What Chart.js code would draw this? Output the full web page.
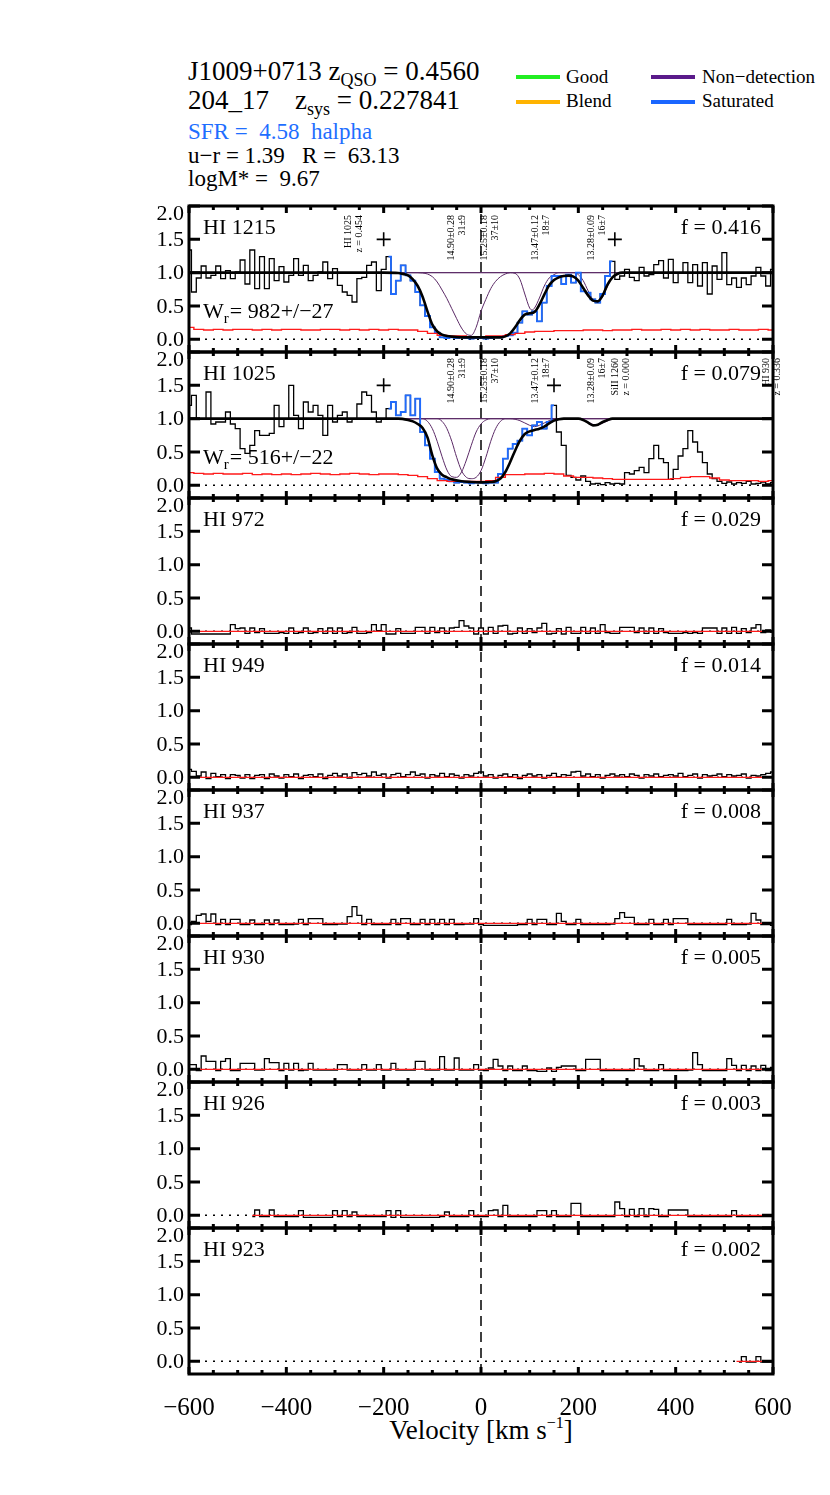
<!DOCTYPE html>
<html>
<head>
<meta charset="utf-8">
<title>J1009+0713 HI velocity stack</title>
<script src="https://cdn.jsdelivr.net/npm/chart.js@4.4.1/dist/chart.umd.min.js"></script>
<style>
  html, body { margin: 0; padding: 0; background: #fff; }
  body { position: relative; width: 830px; height: 1495px; overflow: hidden;
         font-family: 'Liberation Serif', 'Times New Roman', serif; color: #000; }
  canvas { position: absolute; left: 0; }
  .t { position: absolute; white-space: pre; line-height: 1; }
  .sub { font-size: 18px; position: relative; top: 6px; }
  .sup { font-size: 16px; position: relative; top: -11px; }
  .key { position: absolute; height: 4px; width: 44px; }
</style>
</head>
<body>
<div class="t" style="left:188px;top:58px;font-size:27px">J1009+0713 z<span class="sub">QSO</span> = 0.4560</div>
<div class="t" style="left:188px;top:87px;font-size:27px">204_17</div>
<div class="t" style="left:295px;top:87px;font-size:27px">z<span class="sub">sys</span> = 0.227841</div>
<div class="t" style="left:188px;top:120px;font-size:23px;color:#1e6eff">SFR =  4.58  halpha</div>
<div class="t" style="left:188px;top:144px;font-size:23px">u−r = 1.39   R =  63.13</div>
<div class="t" style="left:188px;top:167px;font-size:23px">logM* =  9.67</div>

<div class="key" style="left:516px;top:75px;background:#22ee22"></div>
<div class="t" style="left:566px;top:67px;font-size:19px">Good</div>
<div class="key" style="left:516px;top:100px;background:#ffb300"></div>
<div class="t" style="left:566px;top:91px;font-size:19px">Blend</div>
<div class="key" style="left:651px;top:75px;background:#5a1a8a"></div>
<div class="t" style="left:702px;top:67px;font-size:19px">Non−detection</div>
<div class="key" style="left:651px;top:100px;background:#1a66ff"></div>
<div class="t" style="left:702px;top:91px;font-size:19px">Saturated</div>

<div class="t" style="left:331px;width:300px;text-align:center;top:1417px;font-size:27px">Velocity [km s<span class="sup">−1</span>]</div>

<script>
// ---- bins (km/s) ----
const velGrid = Array.from({ length: 121 }, (_, i) => -600 + 10 * i);
const errGrid = Array.from({ length: 61 }, (_, i) => -600 + 20 * i);

// ---- panel text ----
const lineNames = ['HI 1215', 'HI 1025', 'HI 972', 'HI 949', 'HI 937', 'HI 930', 'HI 926', 'HI 923'];
const fValues = ['0.416', '0.079', '0.029', '0.014', '0.008', '0.005', '0.003', '0.002'];
const wrLabels = ['982+/−27', '516+/−22'];

const yTicks = [0, 0.5, 1, 1.5, 2];
const yTickLabels = ['0.0', '0.5', '1.0', '1.5', '2.0'];
const xMajor = [-600, -400, -200, 0, 200, 400, 600];
const xTickLabels = ['−600', '−400', '−200', '0', '200', '400', '600'];
const xMinor = [-550, -500, -450, -350, -300, -250, -150, -100, -50, 50, 100, 150, 250, 300, 350, 450, 500, 550];
const yMin = -0.19, yMax = 2.0, zeroFlux = 0, sysVel = 0, limitY = 1.5;

// ---- normalised flux, 10 km/s bins from -600 ----
const flux1215 = [
  1.34, 0.71, 0.92, 1.10, 0.92, 0.96, 1.10, 0.91, 1.03, 0.91,
  1.01, 1.19, 0.83, 1.34, 0.76, 1.24, 0.76, 1.21, 0.88, 1.09,
  0.86, 0.96, 1.21, 0.96, 1.11, 0.88, 0.96, 1.01, 1.16, 0.91,
  1.06, 0.81, 0.71, 0.66, 0.56, 0.91, 0.93, 1.11, 1.16, 0.73,
  1.05, 1.24, 0.68, 0.88, 1.11, 0.96, 0.88, 0.71, 0.51, 0.35,
  0.18, 0.10, 0.03, 0.02, 0.03, 0.02, 0.03, 0.02, 0.01, 0.02,
  0.02, 0.01, 0.02, 0.03, 0.03, 0.05, 0.06, 0.10, 0.25, 0.42,
  0.37, 0.42, 0.27, 0.55, 0.80, 0.95, 0.95, 0.83, 0.97, 0.85,
  1.00, 0.72, 0.70, 0.60, 0.55, 0.68, 0.95, 1.17, 0.90, 0.95,
  1.05, 0.93, 0.88, 1.08, 0.95, 0.97, 1.12, 1.18, 0.92, 1.20,
  0.85, 1.00, 1.15, 0.85, 1.12, 0.80, 1.15, 0.68, 1.10, 0.90,
  1.30, 0.82, 0.92, 0.78, 0.92, 0.82, 0.95, 1.08, 0.95, 0.80,
  1.05
];
const flux1025 = [
  1.20, 1.35, 1.00, 1.00, 1.40, 0.92, 0.95, 0.95, 1.10, 0.92,
  0.85, 0.55, 0.48, 0.60, 0.82, 0.75, 0.75, 0.78, 1.20, 0.88,
  1.00, 1.50, 1.05, 0.85, 1.25, 1.10, 1.20, 1.05, 0.75, 1.20,
  0.95, 1.05, 1.10, 0.95, 1.00, 1.22, 1.40, 1.35, 1.10, 0.95,
  1.00, 1.15, 1.25, 1.05, 1.10, 1.35, 1.05, 1.30, 0.80, 0.60,
  0.40, 0.20, 0.10, 0.08, 0.06, 0.04, 0.05, 0.04, 0.03, 0.04,
  0.04, 0.03, 0.04, 0.04, 0.17, 0.40, 0.55, 0.62, 0.67, 0.85,
  0.75, 0.90, 0.95, 0.85, 0.95, 1.20, 0.80, 0.60, 0.15, 0.12,
  0.08, 0.14, 0.06, 0.02, 0.03, 0.01, 0.04, 0.02, 0.03, 0.02,
  0.19, 0.17, 0.22, 0.27, 0.19, 0.40, 0.60, 0.40, 0.34, 0.09,
  0.24, 0.44, 0.55, 0.82, 0.65, 0.50, 0.34, 0.17, 0.10, 0.06,
  0.03, 0.05, 0.02, 0.04, 0.03, 0.06, 0.02, 0.03, 0.05, 0.02,
  0.04
];
const flux972 = [
  0.05, -0.04, -0.04, -0.04, -0.04, -0.04, -0.04, -0.04, -0.04, 0.10,
  0.04, 0.05, -0.03, 0.05, -0.02, 0.04, -0.03, -0.03, -0.03, -0.02,
  -0.03, 0.05, -0.03, -0.02, 0.05, -0.03, -0.02, 0.04, -0.03, 0.05,
  -0.03, 0.05, -0.03, -0.02, 0.06, -0.03, -0.03, -0.02, 0.10, 0.01,
  0.10, -0.04, -0.04, 0.04, -0.03, -0.03, -0.03, 0.06, 0.06, -0.03,
  0.06, -0.02, 0.05, -0.03, 0.05, 0.06, 0.16, 0.08, 0.05, -0.04,
  0.05, -0.04, 0.06, -0.03, 0.08, 0.09, -0.04, -0.03, 0.05, -0.03,
  0.04, -0.02, 0.05, 0.12, -0.04, -0.03, 0.04, -0.04, 0.06, -0.03,
  -0.03, 0.06, -0.03, 0.05, -0.03, 0.10, -0.02, -0.03, -0.03, 0.06,
  0.06, 0.06, -0.02, 0.05, -0.03, 0.05, -0.03, 0.04, -0.02, -0.03,
  -0.03, -0.03, -0.02, -0.03, -0.02, -0.03, 0.05, 0.05, 0.05, -0.03,
  0.05, -0.03, 0.06, -0.03, 0.04, -0.02, 0.05, 0.10, -0.02, 0.02,
  -0.01
];
const flux949 = [
  0.12, 0.09, 0.02, 0.08, -0.02, 0.06, 0.01, 0.04, -0.02, 0.04,
  0.03, -0.01, 0.04, -0.02, 0.03, 0.04, -0.02, 0.05, 0.02, -0.01,
  0.04, 0.01, 0.05, -0.02, 0.03, 0.04, 0.01, 0.05, -0.02, 0.03,
  0.06, 0.02, 0.05, -0.01, 0.07, 0.04, 0.06, 0.02, 0.08, 0.03,
  0.05, -0.01, 0.04, 0.06, 0.01, 0.04, 0.08, 0.03, 0.05, -0.01,
  0.04, 0.02, 0.06, 0.01, 0.05, 0.03, -0.01, 0.04, 0.02, 0.06,
  0.08, 0.02, 0.04, -0.01, 0.03, 0.05, 0.01, 0.04, -0.02, 0.03,
  0.05, 0.02, 0.04, -0.01, 0.03, 0.06, 0.01, 0.04, 0.03, 0.08,
  0.09, 0.02, 0.05, 0.01, 0.04, -0.01, 0.03, 0.05, 0.02, 0.04,
  0.01, 0.05, 0.03, -0.01, 0.04, 0.02, 0.05, 0.01, 0.03, 0.04,
  0.02, 0.06, 0.01, 0.03, 0.05, -0.01, 0.04, 0.02, 0.03, 0.05,
  0.01, 0.04, 0.02, 0.03, 0.05, -0.01, 0.03, 0.02, 0.04, 0.06,
  0.08
];
const flux937 = [
  -0.02, 0.03, 0.12, 0.14, 0.03, 0.14, -0.02, 0.06, -0.02, 0.06,
  0.06, -0.02, -0.02, 0.05, -0.02, -0.02, 0.05, -0.02, 0.05, -0.02,
  -0.02, -0.02, -0.01, 0.06, -0.02, 0.07, 0.07, 0.07, -0.02, -0.02,
  -0.02, -0.01, -0.01, 0.10, 0.25, 0.12, -0.02, 0.06, -0.02, -0.02,
  -0.02, -0.02, 0.06, -0.02, 0.07, 0.07, -0.02, -0.02, 0.06, -0.02,
  0.06, -0.02, 0.06, -0.02, 0.06, -0.02, -0.02, -0.01, -0.01, 0.07,
  -0.02, -0.03, -0.03, -0.03, -0.03, -0.03, -0.03, -0.03, -0.02, -0.02,
  0.06, -0.02, 0.06, 0.06, -0.02, -0.02, 0.15, 0.03, -0.02, -0.02,
  0.06, -0.02, -0.02, -0.02, -0.02, -0.02, -0.02, -0.01, 0.07, 0.16,
  0.09, 0.09, -0.02, -0.02, -0.02, 0.06, -0.02, -0.02, 0.06, -0.02,
  0.07, 0.07, 0.07, -0.02, -0.02, -0.02, -0.02, -0.02, -0.02, -0.02,
  -0.02, 0.06, -0.02, -0.02, -0.02, -0.01, 0.15, 0.05, -0.02, -0.02,
  -0.03
];
const flux930 = [
  0.07, 0.07, -0.02, 0.20, 0.12, 0.12, -0.02, 0.12, 0.16, -0.02,
  -0.02, 0.09, 0.09, 0.09, -0.01, -0.01, 0.16, 0.10, 0.10, -0.02,
  0.09, -0.01, 0.09, -0.02, -0.01, 0.09, -0.01, -0.01, -0.01, -0.01,
  -0.01, 0.07, 0.07, -0.01, -0.01, -0.01, 0.07, -0.01, -0.01, 0.07,
  -0.01, -0.01, 0.09, -0.01, -0.01, -0.01, -0.01, 0.12, 0.12, -0.01,
  -0.01, -0.01, 0.19, -0.01, -0.01, 0.17, -0.01, -0.01, -0.01, 0.07,
  -0.01, -0.02, 0.02, 0.15, 0.05, -0.02, 0.05, -0.02, -0.02, 0.05,
  -0.02, -0.02, -0.03, -0.03, 0.02, -0.03, 0.03, 0.05, 0.05, 0.05,
  -0.02, -0.02, 0.15, 0.15, 0.15, -0.02, -0.02, -0.02, -0.02, -0.02,
  -0.02, -0.02, 0.16, 0.05, -0.02, -0.02, -0.02, 0.07, -0.02, -0.02,
  -0.02, -0.02, -0.02, -0.01, 0.25, 0.07, -0.02, -0.02, -0.02, -0.02,
  -0.02, 0.16, 0.06, -0.02, 0.06, -0.02, 0.05, -0.02, 0.06, -0.02,
  0.03
];
// HI 926 starts at -470 km/s, HI 923 at +530 km/s
const flux926 = [
  -0.02, 0.08, -0.02, -0.02, 0.08, -0.02, -0.02, -0.02, -0.02, -0.02,
  0.07, -0.03, -0.03, -0.03, -0.03, -0.03, -0.03, 0.07, -0.02, 0.07,
  -0.02, 0.05, -0.02, -0.02, -0.02, -0.02, -0.02, -0.02, 0.07, -0.03,
  0.07, -0.03, -0.03, -0.03, -0.03, -0.03, -0.03, -0.03, -0.03, -0.02,
  0.05, -0.02, -0.02, -0.02, -0.02, 0.07, -0.02, -0.02, -0.02, 0.07,
  0.08, -0.02, 0.15, -0.02, -0.02, -0.02, -0.02, -0.02, -0.02, 0.07,
  0.07, -0.02, 0.07, -0.02, -0.02, -0.02, 0.18, 0.18, -0.02, -0.02,
  -0.02, -0.02, -0.02, -0.02, -0.02, 0.20, 0.10, -0.02, 0.09, -0.02,
  0.10, -0.02, 0.10, 0.09, -0.02, -0.02, 0.08, 0.08, 0.08, 0.08,
  -0.02, -0.02, -0.02, -0.02, -0.02, -0.02, -0.02, -0.02, -0.02, 0.07,
  -0.02, -0.02, -0.02, -0.02, -0.02, -0.02, -0.02, -0.02
];
const flux923 = [-0.01, 0.07, -0.01, -0.01, 0.07, -0.01, -0.01, -0.01];

// ---- 1-sigma error, 20 km/s bins ----
const err1215 = [
  0.18, 0.15, 0.14, 0.15, 0.14, 0.15, 0.15, 0.14, 0.15, 0.14,
  0.15, 0.15, 0.14, 0.14, 0.15, 0.15, 0.14, 0.15, 0.14, 0.15,
  0.14, 0.15, 0.14, 0.14, 0.12, 0.09, 0.06, 0.05, 0.05, 0.04,
  0.04, 0.05, 0.05, 0.07, 0.09, 0.11, 0.12, 0.12, 0.13, 0.13,
  0.13, 0.14, 0.14, 0.13, 0.14, 0.14, 0.15, 0.14, 0.14, 0.15,
  0.14, 0.15, 0.14, 0.15, 0.14, 0.14, 0.15, 0.14, 0.14, 0.15,
  0.14
];
const err1025 = [
  0.19, 0.18, 0.17, 0.18, 0.17, 0.17, 0.18, 0.16, 0.17, 0.16,
  0.17, 0.16, 0.17, 0.18, 0.17, 0.16, 0.17, 0.18, 0.17, 0.16,
  0.17, 0.17, 0.16, 0.15, 0.13, 0.10, 0.07, 0.06, 0.06, 0.06,
  0.06, 0.07, 0.12, 0.16, 0.16, 0.17, 0.17, 0.18, 0.17, 0.14,
  0.12, 0.12, 0.11, 0.10, 0.09, 0.09, 0.09, 0.09, 0.09, 0.09,
  0.10, 0.12, 0.13, 0.13, 0.11, 0.08, 0.07, 0.07, 0.07, 0.06,
  0.07
];
const errVelFull = [-600, 600], errVel926 = [-470, 600], errVel923 = [525, 600];
const errLow = [0.0, 0.0];

// ---- fitted model and components ----
const modelVel1215 = [-600, -200, -170, -160, -150, -140, -130, -120, -110, -100, -90, -80, -70, -60, -40, 40, 50, 60, 70, 80,
  90, 100, 110, 120, 130, 140, 150, 160, 170, 180, 190, 200, 210, 220, 230, 240, 250, 260, 270, 280, 290, 600];
const model1215 = [1, 1, 0.995, 0.98, 0.96, 0.9, 0.8, 0.64, 0.42, 0.22, 0.12, 0.07, 0.05, 0.04, 0.03, 0.03, 0.045, 0.09, 0.18, 0.29,
  0.37, 0.39, 0.41, 0.52, 0.67, 0.81, 0.89, 0.93, 0.95, 0.955, 0.94, 0.88, 0.77, 0.66, 0.58, 0.57, 0.66, 0.82, 0.93, 0.98, 1, 1];
const modelVel1025 = [-600, -170, -150, -140, -130, -120, -110, -100, -90, -80, -70, -60, -40, -20, 0, 20, 30, 40, 50, 60,
  70, 80, 90, 100, 110, 120, 130, 140, 150, 160, 170, 200, 210, 220, 230, 240, 250, 260, 270, 600];
const model1025 = [1, 1, 0.98, 0.96, 0.92, 0.86, 0.72, 0.45, 0.25, 0.16, 0.12, 0.09, 0.06, 0.05, 0.045, 0.05, 0.06, 0.1, 0.2, 0.35,
  0.52, 0.67, 0.77, 0.81, 0.83, 0.85, 0.88, 0.93, 0.97, 0.99, 1, 1, 0.98, 0.94, 0.9, 0.91, 0.95, 0.98, 1, 1];

const c1Vel = [-600, -130, -120, -110, -100, -90, -80, -70, -60, -50, -40, -30, -20, -10, 0, 10, 20, 30, 40, 50, 60, 600];
const c1 = [1, 1, 0.995, 0.98, 0.94, 0.86, 0.74, 0.61, 0.46, 0.31, 0.17, 0.08, 0.06, 0.18, 0.42, 0.6, 0.76, 0.87, 0.94, 0.98, 1, 1];
const c2Vel = [-600, 60, 70, 80, 90, 100, 105, 110, 120, 130, 140, 150, 160, 600];
const c2 = [1, 1, 0.99, 0.9, 0.68, 0.47, 0.44, 0.47, 0.62, 0.8, 0.92, 0.97, 1, 1];
const c3Vel = [-600, 190, 200, 210, 220, 230, 240, 250, 260, 270, 280, 290, 600];
const c3 = [1, 1, 0.97, 0.88, 0.73, 0.6, 0.57, 0.64, 0.8, 0.93, 0.98, 1, 1];
const d1Vel = [-600, -120, -110, -100, -90, -80, -70, -60, -50, -40, -30, -20, -10, 0, 10, 20, 600];
const d1 = [1, 1, 0.96, 0.85, 0.66, 0.43, 0.23, 0.13, 0.12, 0.2, 0.38, 0.6, 0.8, 0.92, 0.98, 1, 1];
const d2Vel = [-600, -90, -80, -70, -60, -50, -40, -30, -20, -10, 0, 10, 20, 30, 40, 50, 600];
const d2 = [1, 1, 0.96, 0.85, 0.66, 0.42, 0.22, 0.12, 0.1, 0.12, 0.22, 0.42, 0.66, 0.85, 0.96, 1, 1];
const d3Vel = [-600, 60, 80, 100, 110, 120, 140, 160, 600];
const d3 = [1, 1, 0.97, 0.9, 0.88, 0.9, 0.97, 1, 1];
const d4Vel = [-600, 200, 220, 237, 255, 275, 600];
const d4 = [1, 1, 0.95, 0.9, 0.95, 1, 1];

// saturated pixels and integration limits
const sat1215 = [-195, 275], sat1025 = [-195, 155];
const lim1215 = [-200, 275], lim1025 = [-200, 150];

// component annotations
const compVel1215 = [-261, -50, 18, 123, 239];
const compTop1215 = ['HI 1025', '14.90±0.28', '15.25±0.18', '13.47±0.12', '13.28±0.09'];
const compBot1215 = ['z = 0.454', '31±9', '37±10', '18±7', '16±7'];
const compVel1025 = [-50, 18, 123, 239, 288, 598];
const compTop1025 = ['14.90±0.28', '15.25±0.18', '13.47±0.12', '13.28±0.09', 'SiII 1260', 'HI 930'];
const compBot1025 = ['31±9', '37±10', '18±7', '16±7', 'z = 0.000', 'z = 0.336'];

const panels = [
  { flux: flux1215, vel: velGrid, err: err1215, errVel: errGrid, sat: sat1215, lim: lim1215,
    model: [modelVel1215, model1215], comps: [[c1Vel, c1], [c2Vel, c2], [c3Vel, c3]],
    notes: [compVel1215, compTop1215, compBot1215], noteTop: 9 },
  { flux: flux1025, vel: velGrid, err: err1025, errVel: errGrid, sat: sat1025, lim: lim1025,
    model: [modelVel1025, model1025], comps: [[d1Vel, d1], [d2Vel, d2], [d3Vel, d3], [d4Vel, d4]],
    notes: [compVel1025, compTop1025, compBot1025], noteTop: 6 },
  { flux: flux972, vel: velGrid, err: errLow, errVel: errVelFull },
  { flux: flux949, vel: velGrid, err: errLow, errVel: errVelFull },
  { flux: flux937, vel: velGrid, err: errLow, errVel: errVelFull },
  { flux: flux930, vel: velGrid, err: errLow, errVel: errVelFull },
  { flux: flux926, vel: velGrid.slice(13), err: errLow, errVel: errVel926 },
  { flux: flux923, vel: velGrid.slice(113), err: errLow, errVel: errVel923 }
];

const panelTop = 206, panelH = 146;
const serif = '"Liberation Serif", "Times New Roman", serif';
const pts = (xs, ys) => ys.map((v, i) => ({ x: xs[i], y: v }));

const idlAxes = {
  id: 'idlAxes',
  afterDatasetsDraw(chart, args, opts) {
    const { ctx, chartArea: a, scales: { x, y } } = chart;
    const k = opts.index, p = panels[k];
    ctx.save();
    ctx.strokeStyle = '#000';
    ctx.fillStyle = '#000';
    ctx.lineWidth = 3;
    ctx.strokeRect(a.left, a.top, a.right - a.left, a.bottom - a.top);

    ctx.beginPath();
    const seg = (x0, y0, x1, y1) => { ctx.moveTo(x0, y0); ctx.lineTo(x1, y1); };
    xMajor.forEach(v => {
      const px = x.getPixelForValue(v);
      seg(px, a.top, px, a.top + 7);
      seg(px, a.bottom, px, a.bottom - 7);
    });
    xMinor.forEach(v => {
      const px = x.getPixelForValue(v);
      seg(px, a.top, px, a.top + 4);
      seg(px, a.bottom, px, a.bottom - 4);
    });
    yTicks.forEach(v => {
      const py = y.getPixelForValue(v);
      seg(a.left, py, a.left + 11, py);
      seg(a.right, py, a.right - 11, py);
    });
    ctx.stroke();

    // y tick labels
    ctx.font = '22px ' + serif;
    ctx.textAlign = 'right';
    ctx.textBaseline = 'middle';
    yTicks.forEach((v, i) => {
      const py = y.getPixelForValue(v) + (v === yMax ? 8 : 1);
      ctx.fillText(yTickLabels[i], a.left - 5, py);
    });

    // transition name and oscillator strength
    ctx.textBaseline = 'alphabetic';
    ctx.textAlign = 'left';
    ctx.fillText(lineNames[k], a.left + 14, a.top + 28);
    ctx.textAlign = 'right';
    ctx.fillText('f = ' + fValues[k], a.right - 12, a.top + 28);

    // equivalent width
    if (wrLabels[k]) {
      ctx.textAlign = 'left';
      const bx = a.left + 14, by = a.top + 112;
      ctx.fillText('W', bx, by);
      const ww = ctx.measureText('W').width;
      ctx.font = '15px ' + serif;
      ctx.fillText('r', bx + ww, by + 5);
      ctx.font = '22px ' + serif;
      ctx.fillText('= ' + wrLabels[k], bx + ww + 6, by);
    }

    // rotated component labels
    if (p.notes) {
      ctx.font = '10px ' + serif;
      p.notes[0].forEach((v, i) => {
        ctx.save();
        ctx.translate(x.getPixelForValue(v), a.top + p.noteTop);
        ctx.rotate(-Math.PI / 2);
        ctx.textAlign = 'right';
        ctx.textBaseline = 'middle';
        ctx.fillText(p.notes[1][i], 0, -5.5);
        ctx.fillText(p.notes[2][i], 0, 5.5);
        ctx.restore();
      });
    }

    // velocity tick labels on the bottom panel only
    if (k === panels.length - 1) {
      ctx.font = '25px ' + serif;
      ctx.textAlign = 'center';
      ctx.textBaseline = 'alphabetic';
      xMajor.forEach((v, i) => ctx.fillText(xTickLabels[i], x.getPixelForValue(v), a.bottom + 41));
    }
    ctx.restore();
  }
};

panels.forEach((p, k) => {
  const last = k === panels.length - 1;
  const padTop = 20, padBot = last ? 70 : 20;
  const canvas = document.createElement('canvas');
  canvas.width = 830;
  canvas.height = panelH + padTop + padBot;
  canvas.style.top = (panelTop + k * panelH - padTop) + 'px';
  document.body.appendChild(canvas);

  const fluxPts = pts(p.vel, p.flux);
  const datasets = [];
  if (p.lim) {
    datasets.push({ data: p.lim.map(v => ({ x: v, y: limitY })), showLine: false, pointStyle: 'cross',
      pointRadius: 7, pointBorderWidth: 1.6, pointBorderColor: '#000', order: 0 });
  }
  if (p.model) {
    datasets.push({ data: pts(p.model[0], p.model[1]), borderColor: '#000', borderWidth: 2.6,
      cubicInterpolationMode: 'monotone', order: 1 });
  }
  datasets.push({ data: pts(p.errVel, p.err), borderColor: '#ff1a1a', borderWidth: 1.4, stepped: 'middle', order: 2 });
  if (p.sat) {
    datasets.push({ data: fluxPts.filter(q => q.x >= p.sat[0] && q.x <= p.sat[1]), borderColor: '#1f6bff',
      borderWidth: 1.8, stepped: 'middle', order: 3 });
  }
  datasets.push({ data: fluxPts, borderColor: '#000', borderWidth: 1.3, stepped: 'middle', order: 4 });
  (p.comps || []).forEach(c => {
    datasets.push({ data: pts(c[0], c[1]), borderColor: '#5b2a66', borderWidth: 1,
      cubicInterpolationMode: 'monotone', order: 5 });
  });
  datasets.push({ data: [{ x: xMajor[0], y: zeroFlux }, { x: xMajor[xMajor.length - 1], y: zeroFlux }],
    borderColor: '#000', borderWidth: 1.5, borderDash: [2, 6], order: 6 });
  datasets.push({ data: [{ x: sysVel, y: yMin }, { x: sysVel, y: yMax }],
    borderColor: '#000', borderWidth: 1.5, borderDash: [10, 6], order: 6 });

  new Chart(canvas, {
    type: 'line',
    data: { datasets },
    options: {
      responsive: false,
      animation: false,
      events: [],
      devicePixelRatio: 1,
      layout: { padding: { left: 189, right: 57, top: padTop, bottom: padBot } },
      elements: { point: { radius: 0 }, line: { fill: false } },
      scales: {
        x: { type: 'linear', min: -600, max: 600, display: false },
        y: { type: 'linear', min: yMin, max: yMax, display: false }
      },
      plugins: {
        legend: { display: false },
        tooltip: { enabled: false },
        colors: { enabled: false },
        idlAxes: { index: k }
      }
    },
    plugins: [idlAxes]
  });
});
</script>
</body>
</html>
